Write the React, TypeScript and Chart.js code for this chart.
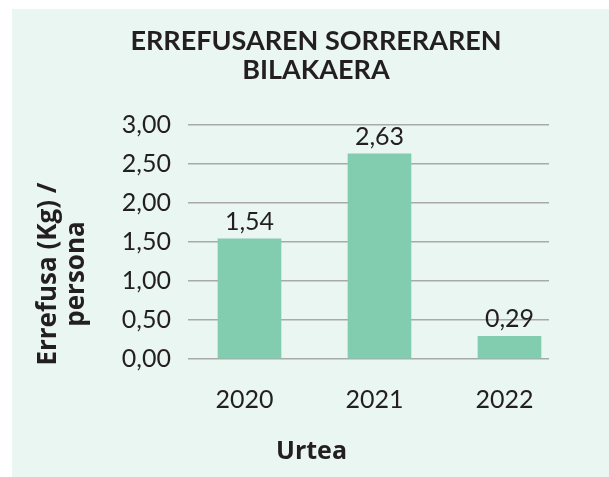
import React, { useEffect, useRef } from "react";
import { Chart, registerables } from "chart.js";

Chart.register(...registerables);

const years = [2020, 2021, 2022];
const yearLabels = ["2020", "2021", "2022"];
const values = [1.54, 2.63, 0.29];
const yMin = 0;
const yMax = 3;
const yStep = 0.5;
const titleLines = ["ERREFUSAREN SORRERAREN", "BILAKAERA"];
const yTitleLines = ["Errefusa (Kg) /", "persona"];
const xTitle = "Urtea";

const FONT = "Lato, 'Noto Sans', sans-serif";
const FONT2 = "'Open Sans', Lato, sans-serif";
const TEXT = "#231f20";
const BAR = "#82ccaf";
const BG = "#eaf6f2";

const fmt = (v: number) => v.toFixed(2).replace(".", ",");

const textPlugin = {
  id: "texts",
  afterDraw(chart: any) {
    const ctx = chart.ctx;
    ctx.save();
    ctx.fillStyle = TEXT;
    // title
    ctx.font = `bold 27px ${FONT}`;
    ctx.textAlign = "center";
    ctx.textBaseline = "alphabetic";
    titleLines.forEach((t, i) => ctx.fillText(t, 304, 41 + i * 29));
    // x title
    ctx.font = `bold 25px ${FONT2}`;
    ctx.fillText(xTitle, 299.5, 450);
    // y title
    ctx.font = `bold 26px ${FONT2}`;
    yTitleLines.forEach((t, i) => {
      ctx.save();
      ctx.translate(44 + i * 28, 265);
      ctx.rotate(-Math.PI / 2);
      ctx.fillText(t, 0, 0);
      ctx.restore();
    });
    // data labels
    ctx.font = `25px ${FONT}`;
    ctx.textBaseline = "middle";
    const meta = chart.getDatasetMeta(0);
    meta.data.forEach((el: any, i: number) => {
      ctx.fillText(fmt(values[i]), el.x, el.y - 17);
    });
    ctx.restore();
  },
};

export default function App() {
  const ref = useRef<HTMLCanvasElement>(null);
  useEffect(() => {
    if (!ref.current) return;
    const chart = new Chart(ref.current, {
      type: "bar",
      data: {
        datasets: [
          {
            data: years.map((y, i) => ({ x: y, y: values[i] })),
            backgroundColor: BAR,
            borderWidth: 0,
            barThickness: 63,
          },
        ],
      },
      options: {
        animation: false,
        responsive: false,
        layout: { padding: { top: 116, right: 60, left: 0, bottom: 0 } },
        plugins: {
          legend: { display: false },
          tooltip: { enabled: false },
          title: { display: false },
        },
        scales: {
          x: {
            type: "linear",
            offset: false,
            min: 2019.527,
            max: 2022.304,
            grid: { display: false, drawTicks: false, offset: false },
            border: { display: false },
            afterBuildTicks: (scale: any) => {
              scale.ticks = years.map((v) => ({ value: v }));
            },
            afterFit: (scale: any) => {
              scale.height = 118;
            },
            ticks: {
              autoSkip: false,
              maxRotation: 0,
              padding: 26,
              labelOffset: -5,
              color: TEXT,
              font: { family: FONT, size: 25 },
              callback: (v: any) => {
                const i = years.indexOf(Number(v));
                return i >= 0 ? yearLabels[i] : "";
              },
            },
          },
          y: {
            min: yMin,
            max: yMax,
            grid: { color: "#a9a9a9", lineWidth: 1.5, drawTicks: false },
            border: { display: false },
            afterFit: (scale: any) => {
              scale.width = 176;
            },
            ticks: {
              stepSize: yStep,
              padding: 17,
              color: TEXT,
              font: { family: FONT, size: 25 },
              callback: (v: any) => fmt(Number(v)),
            },
          },
        },
      },
      plugins: [textPlugin],
    });
    return () => chart.destroy();
  }, []);
  return (
    <div
      style={{
        position: "absolute",
        left: 12,
        top: 9,
        width: 597,
        height: 468,
        background: BG,
      }}
    >
      <canvas ref={ref} width={597} height={468} style={{ display: "block" }} />
    </div>
  );
}
